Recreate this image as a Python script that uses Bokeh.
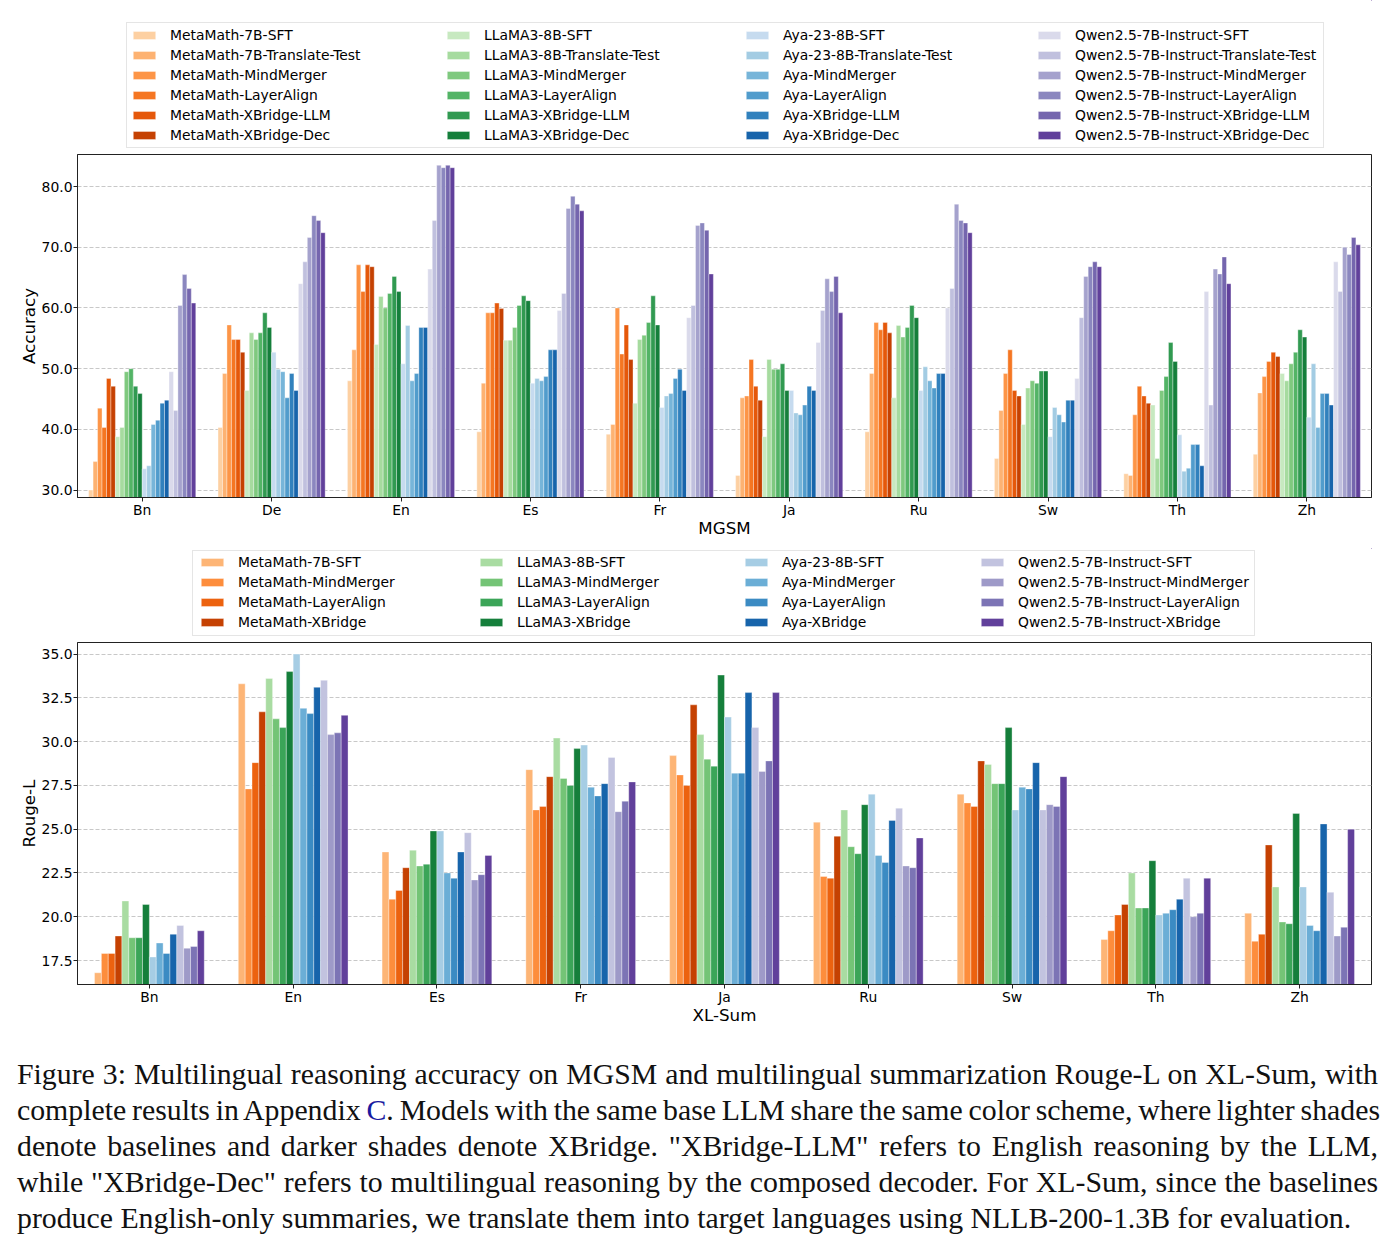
import numpy as np
from bokeh.plotting import figure
from bokeh.models import (FactorRange, Range1d, Legend, LegendItem, ColumnDataSource,
                          SingleIntervalTicker, PrintfTickFormatter, Div)
from bokeh.transform import dodge
from bokeh.layouts import column
from bokeh.embed import file_html
from bokeh.resources import INLINE

# ---------------- data: MGSM (accuracy) ----------------
mgsm_langs = ["Bn", "De", "En", "Es", "Fr", "Ja", "Ru", "Sw", "Th", "Zh"]

mgsm_metamath_names = ["MetaMath-7B-SFT", "MetaMath-7B-Translate-Test", "MetaMath-MindMerger",
                       "MetaMath-LayerAlign", "MetaMath-XBridge-LLM", "MetaMath-XBridge-Dec"]
mgsm_metamath = [
    [30.0, 40.3, 48.0, 39.6, 39.2, 32.4, 39.6, 35.2, 32.7, 35.9],
    [34.7, 49.2, 53.1, 47.6, 40.8, 45.2, 49.2, 43.1, 32.4, 46.0],
    [43.5, 57.2, 67.1, 59.2, 60.0, 45.5, 57.6, 49.2, 42.4, 48.7],
    [40.3, 54.8, 62.7, 59.2, 52.4, 51.5, 56.4, 53.1, 47.1, 51.2],
    [48.4, 54.8, 67.1, 60.8, 57.2, 47.1, 57.6, 46.4, 45.5, 52.7],
    [47.1, 52.7, 66.8, 59.9, 51.5, 44.8, 55.9, 45.5, 44.3, 52.0],
]
mgsm_llama_names = ["LLaMA3-8B-SFT", "LLaMA3-8B-Translate-Test", "LLaMA3-MindMerger",
                    "LLaMA3-LayerAlign", "LLaMA3-XBridge-LLM", "LLaMA3-XBridge-Dec"]
mgsm_llama = [
    [38.8, 46.4, 54.0, 54.7, 44.3, 38.8, 45.2, 40.8, 44.0, 49.2],
    [40.3, 55.9, 61.9, 54.7, 54.8, 51.5, 57.1, 46.8, 35.2, 48.0],
    [49.5, 54.8, 60.0, 56.8, 55.5, 49.9, 55.2, 48.0, 46.4, 50.8],
    [50.0, 55.9, 62.4, 60.4, 57.6, 49.9, 56.8, 47.6, 48.7, 52.7],
    [47.1, 59.2, 65.2, 62.0, 62.0, 50.8, 60.4, 49.6, 54.3, 56.4],
    [45.9, 56.8, 62.7, 61.2, 57.2, 46.4, 58.4, 49.6, 51.2, 55.2],
]
mgsm_aya_names = ["Aya-23-8B-SFT", "Aya-23-8B-Translate-Test", "Aya-MindMerger",
                  "Aya-LayerAlign", "Aya-XBridge-LLM", "Aya-XBridge-Dec"]
mgsm_aya = [
    [33.5, 52.7, 50.8, 47.6, 43.6, 46.4, 46.4, 38.8, 39.1, 42.0],
    [34.0, 49.9, 57.1, 48.4, 45.5, 42.7, 50.3, 43.6, 33.1, 50.8],
    [40.8, 49.5, 48.0, 48.0, 45.9, 42.4, 48.0, 42.4, 33.6, 40.3],
    [41.5, 45.2, 49.2, 48.7, 48.4, 44.0, 46.8, 41.2, 37.5, 45.9],
    [44.3, 49.2, 56.8, 53.1, 49.9, 47.1, 49.2, 44.8, 37.5, 45.9],
    [44.8, 46.4, 56.8, 53.1, 46.4, 46.4, 49.2, 44.8, 34.0, 44.0],
]
mgsm_qwen_names = ["Qwen2.5-7B-Instruct-SFT", "Qwen2.5-7B-Instruct-Translate-Test",
                   "Qwen2.5-7B-Instruct-MindMerger", "Qwen2.5-7B-Instruct-LayerAlign",
                   "Qwen2.5-7B-Instruct-XBridge-LLM", "Qwen2.5-7B-Instruct-XBridge-Dec"]
mgsm_qwen = [
    [49.5, 64.0, 66.4, 59.6, 58.4, 54.3, 60.0, 48.4, 62.7, 67.6],
    [43.1, 67.6, 74.4, 62.4, 60.4, 59.6, 63.2, 58.4, 44.0, 62.7],
    [60.4, 71.6, 83.5, 76.4, 73.6, 64.8, 77.1, 65.2, 66.4, 70.0],
    [65.5, 75.2, 83.1, 78.4, 74.0, 62.7, 74.4, 66.8, 65.6, 68.8],
    [63.2, 74.4, 83.5, 77.1, 72.8, 65.2, 74.0, 67.6, 68.4, 71.6],
    [60.8, 72.4, 83.1, 76.0, 65.6, 59.2, 72.4, 66.8, 64.0, 70.4],
]

# ---------------- data: XL-Sum (Rouge-L) ----------------
xl_langs = ["Bn", "En", "Es", "Fr", "Ja", "Ru", "Sw", "Th", "Zh"]

xl_metamath_names = ["MetaMath-7B-SFT", "MetaMath-MindMerger", "MetaMath-LayerAlign", "MetaMath-XBridge"]
xl_metamath = [
    [16.8, 33.3, 23.7, 28.4, 29.2, 25.4, 27.0, 18.7, 20.2],
    [17.9, 27.3, 21.0, 26.1, 28.1, 22.3, 26.5, 19.2, 18.6],
    [17.9, 28.8, 21.5, 26.3, 27.5, 22.2, 26.3, 20.1, 19.0],
    [18.9, 31.7, 22.8, 28.0, 32.1, 24.6, 28.9, 20.7, 24.1],
]
xl_llama_names = ["LLaMA3-8B-SFT", "LLaMA3-MindMerger", "LLaMA3-LayerAlign", "LLaMA3-XBridge"]
xl_llama = [
    [20.9, 33.6, 23.8, 30.2, 30.4, 26.1, 28.7, 22.5, 21.7],
    [18.8, 31.3, 22.9, 27.9, 29.0, 24.0, 27.6, 20.5, 19.7],
    [18.8, 30.8, 23.0, 27.5, 28.6, 23.6, 27.6, 20.5, 19.6],
    [20.7, 34.0, 24.9, 29.6, 33.8, 26.4, 30.8, 23.2, 25.9],
]
xl_aya_names = ["Aya-23-8B-SFT", "Aya-MindMerger", "Aya-LayerAlign", "Aya-XBridge"]
xl_aya = [
    [17.7, 35.0, 24.9, 29.8, 31.4, 27.0, 26.1, 20.1, 21.7],
    [18.5, 31.9, 22.5, 27.4, 28.2, 23.5, 27.4, 20.2, 19.5],
    [17.9, 31.6, 22.2, 26.9, 28.2, 23.1, 27.3, 20.4, 19.2],
    [19.0, 33.1, 23.7, 27.6, 32.8, 25.5, 28.8, 21.0, 25.3],
]
xl_qwen_names = ["Qwen2.5-7B-Instruct-SFT", "Qwen2.5-7B-Instruct-MindMerger",
                 "Qwen2.5-7B-Instruct-LayerAlign", "Qwen2.5-7B-Instruct-XBridge"]
xl_qwen = [
    [19.5, 33.5, 24.8, 29.1, 30.8, 26.2, 26.1, 22.2, 21.4],
    [18.2, 30.4, 22.1, 26.0, 28.3, 22.9, 26.4, 20.0, 18.9],
    [18.3, 30.5, 22.4, 26.6, 28.9, 22.8, 26.3, 20.2, 19.4],
    [19.2, 31.5, 23.5, 27.7, 32.8, 24.5, 28.0, 22.2, 25.0],
]

# ---------------- colour maps (ColorBrewer sequential) ----------------
ORANGES = ["#fff5eb", "#fee6ce", "#fdd0a2", "#fdae6b", "#fd8d3c", "#f16913", "#d94801", "#a63603", "#7f2704"]
GREENS = ["#f7fcf5", "#e5f5e0", "#c7e9c0", "#a1d99b", "#74c476", "#41ab5d", "#238b45", "#006d2c", "#00441b"]
BLUES = ["#f7fbff", "#deebf7", "#c6dbef", "#9ecae1", "#6baed6", "#4292c6", "#2171b5", "#08519c", "#08306b"]
PURPLES = ["#fcfbfd", "#efedf5", "#dadaeb", "#bcbddc", "#9e9ac8", "#807dba", "#6a51a3", "#54278f", "#3f007d"]


def cmap(anchors, t):
    n = len(anchors) - 1
    pos = t * n
    i = min(int(pos), n - 1)
    f = pos - i
    a = [int(anchors[i][k:k + 2], 16) for k in (1, 3, 5)]
    b = [int(anchors[i + 1][k:k + 2], 16) for k in (1, 3, 5)]
    c = [int(round(a[j] + (b[j] - a[j]) * f)) for j in range(3)]
    return "#%02x%02x%02x" % tuple(c)


FONT = "DejaVu Sans"
TICK_FS = "13.9px"
LABEL_FS = "16.7px"
W = 1396
FL = 77  # left edge of the plot frames (column layout aligns them)


def style(p, xlabel, ylabel, interval):
    p.outline_line_color = "#222222"
    p.outline_line_width = 1
    p.xgrid.visible = False
    p.ygrid.grid_line_color = "#c8c8c8"
    p.ygrid.grid_line_dash = "4 2"
    p.ygrid.grid_line_width = 1
    p.yaxis.ticker = SingleIntervalTicker(interval=interval, num_minor_ticks=0)
    p.yaxis.formatter = PrintfTickFormatter(format="%.1f")
    for ax in (p.xaxis[0], p.yaxis[0]):
        ax.axis_line_color = "#222222"
        ax.major_tick_line_color = "#222222"
        ax.major_tick_out = 4
        ax.major_tick_in = 0
        ax.minor_tick_line_color = None
        ax.major_label_text_font = FONT
        ax.major_label_text_font_size = TICK_FS
        ax.major_label_text_color = "black"
        ax.axis_label_text_font = FONT
        ax.axis_label_text_font_size = LABEL_FS
        ax.axis_label_text_font_style = "normal"
        ax.axis_label_text_color = "black"
    p.xaxis.major_label_standoff = 0
    p.xaxis.axis_label_standoff = -3
    p.yaxis.major_label_standoff = 1
    p.yaxis.axis_label_standoff = 0
    p.xaxis.axis_label = xlabel
    p.yaxis.axis_label = ylabel


def family_colors(fams, t0, t1):
    out = []
    for names, vals, anchors in fams:
        shades = np.linspace(t0, t1, len(names))
        out.append([cmap(anchors, t) for t in shades])
    return out


def make_sources(langs, fams):
    return [[ColumnDataSource(dict(lang=langs, val=v)) for v in vals] for _, vals, _ in fams]


def add_bars(p, fams, sources, colors, width):
    total = sum(len(n) for n, _, _ in fams)
    idx = 0
    for (names, vals, anchors), srcs, cols in zip(fams, sources, colors):
        for src, c in zip(srcs, cols):
            off = (idx - (total - 1) / 2.0) * width
            p.vbar(x=dodge("lang", off, range=p.x_range), top="val", bottom=0,
                   width=width, source=src, fill_color=c,
                   line_color="white", line_width=0.5, line_alpha=0.7)
            idx += 1


def legend_fig(height, fams, sources, colors, glyph_lefts, first_center, box):
    # a strip holding the legend; its proxies use the same sources, mapped off-view
    lf = figure(width=W, height=height, x_range=Range1d(0, 1), y_range=Range1d(0, 1),
                x_axis_type=None, y_axis_type=None, toolbar_location=None,
                output_backend="svg", min_border_left=FL, min_border_right=0,
                min_border_top=0, min_border_bottom=0, outline_line_color=None)
    lf.grid.visible = False
    dummy = lf.vbar(x=[], top=[], width=0.1, fill_alpha=0, line_alpha=0)
    bl, bt, br, bb = box
    lf.add_layout(Legend(items=[LegendItem(label=" ", renderers=[dummy])],
                         location=(bl - FL, height - bb), padding=0, margin=0, spacing=0,
                         glyph_width=1, glyph_height=1, label_standoff=0,
                         label_width=int(br - bl - 1), label_height=int(bb - bt),
                         label_text_font_size="1px",
                         border_line_color="#cccccc", border_line_width=1,
                         background_fill_color="white", background_fill_alpha=1.0))
    ih, sp = 16, 4
    for (names, vals, anchors), srcs, cols, gl in zip(fams, sources, colors, glyph_lefts):
        items = []
        for name, src, c in zip(names, srcs, cols):
            r = lf.vbar(x="val", top="val", bottom="val", width=0.01, source=src,
                        fill_color=c, line_color="white", line_width=0.5, line_alpha=0.7)
            items.append(LegendItem(label=name, renderers=[r]))
        n = len(items)
        top = first_center - ih / 2.0
        bottom = top + n * ih + (n - 1) * sp
        lf.add_layout(Legend(items=items, location=(int(gl - FL), int(round(height - bottom))),
                             orientation="vertical", padding=0, margin=0, spacing=sp,
                             glyph_width=28, glyph_height=10, label_height=ih, label_standoff=12,
                             label_text_font=FONT, label_text_font_size=TICK_FS,
                             label_text_color="black",
                             border_line_color=None, background_fill_alpha=0))
    return lf


# ---------------- top chart: MGSM ----------------
fams1 = [(mgsm_metamath_names, mgsm_metamath, ORANGES),
         (mgsm_llama_names, mgsm_llama, GREENS),
         (mgsm_aya_names, mgsm_aya, BLUES),
         (mgsm_qwen_names, mgsm_qwen, PURPLES)]
colors1 = family_colors(fams1, 0.25, 0.8)
srcs1 = make_sources(mgsm_langs, fams1)
L1 = 152
leg1 = legend_fig(L1, fams1, srcs1, colors1, [130, 444, 743, 1035], 35, (126, 24, 1322, 148))

H1 = 396
p1 = figure(width=W, height=H1, x_range=FactorRange(*mgsm_langs, range_padding=0),
            y_range=Range1d(28.78, 85.28), output_backend="svg", toolbar_location=None,
            min_border_left=FL, min_border_right=25, min_border_top=154 - L1,
            min_border_bottom=L1 + H1 - 497)
style(p1, "MGSM", "Accuracy", 10)
add_bars(p1, fams1, srcs1, colors1, 0.0345)

# ---------------- bottom chart: XL-Sum ----------------
fams2 = [(xl_metamath_names, xl_metamath, ORANGES),
         (xl_llama_names, xl_llama, GREENS),
         (xl_aya_names, xl_aya, BLUES),
         (xl_qwen_names, xl_qwen, PURPLES)]
colors2 = family_colors(fams2, 0.35, 0.8)
srcs2 = make_sources(xl_langs, fams2)
Y2 = L1 + H1
L2 = 92
leg2 = legend_fig(L2, fams2, srcs2, colors2, [198, 477, 742, 978], 562 - Y2,
                  (192, 552 - Y2, 1253, 636 - Y2))

H2 = 400
Y3 = Y2 + L2
p2 = figure(width=W, height=H2, x_range=FactorRange(*xl_langs, range_padding=0),
            y_range=Range1d(16.13, 35.66), output_backend="svg", toolbar_location=None,
            min_border_left=FL, min_border_right=24, min_border_top=642 - Y3,
            min_border_bottom=Y3 + H2 - 984)
style(p2, "XL-Sum", "Rouge-L", 2.5)
add_bars(p2, fams2, srcs2, colors2, 0.0477)

# ---------------- caption ----------------
lines = [
    'Figure 3: Multilingual reasoning accuracy on MGSM and multilingual summarization Rouge-L on XL-Sum, with',
    'complete results in Appendix <span style="color:#1a1aa0">C</span>. Models with the same base LLM share the same color scheme, where lighter shades',
    'denote baselines and darker shades denote XBridge. "XBridge-LLM" refers to English reasoning by the LLM,',
    'while "XBridge-Dec" refers to multilingual reasoning by the composed decoder. For XL-Sum, since the baselines',
    'produce English-only summaries, we translate them into target languages using NLLB-200-1.3B for evaluation.',
]
html = '<div style="width:1361px;margin-left:12px;padding-top:11px;font-family:\'Liberation Serif\',serif;' \
       'font-size:29.8px;line-height:36px;color:#111;">'
for i, ln in enumerate(lines):
    last = (i == len(lines) - 1)
    ws = "-1.6px" if i == 1 else "0px"
    html += '<div style="text-align:%s;text-align-last:%s;word-spacing:%s;white-space:nowrap;">%s</div>' % (
        "left" if last else "justify", "left" if last else "justify", ws, ln)
html += '</div>'
Y4 = Y3 + H2
caption = Div(text=html, width=W, height=1250 - Y4 - 6)

layout = column(leg1, p1, leg2, p2, caption, spacing=0)
open("out.html", "w").write(file_html(layout, INLINE))
